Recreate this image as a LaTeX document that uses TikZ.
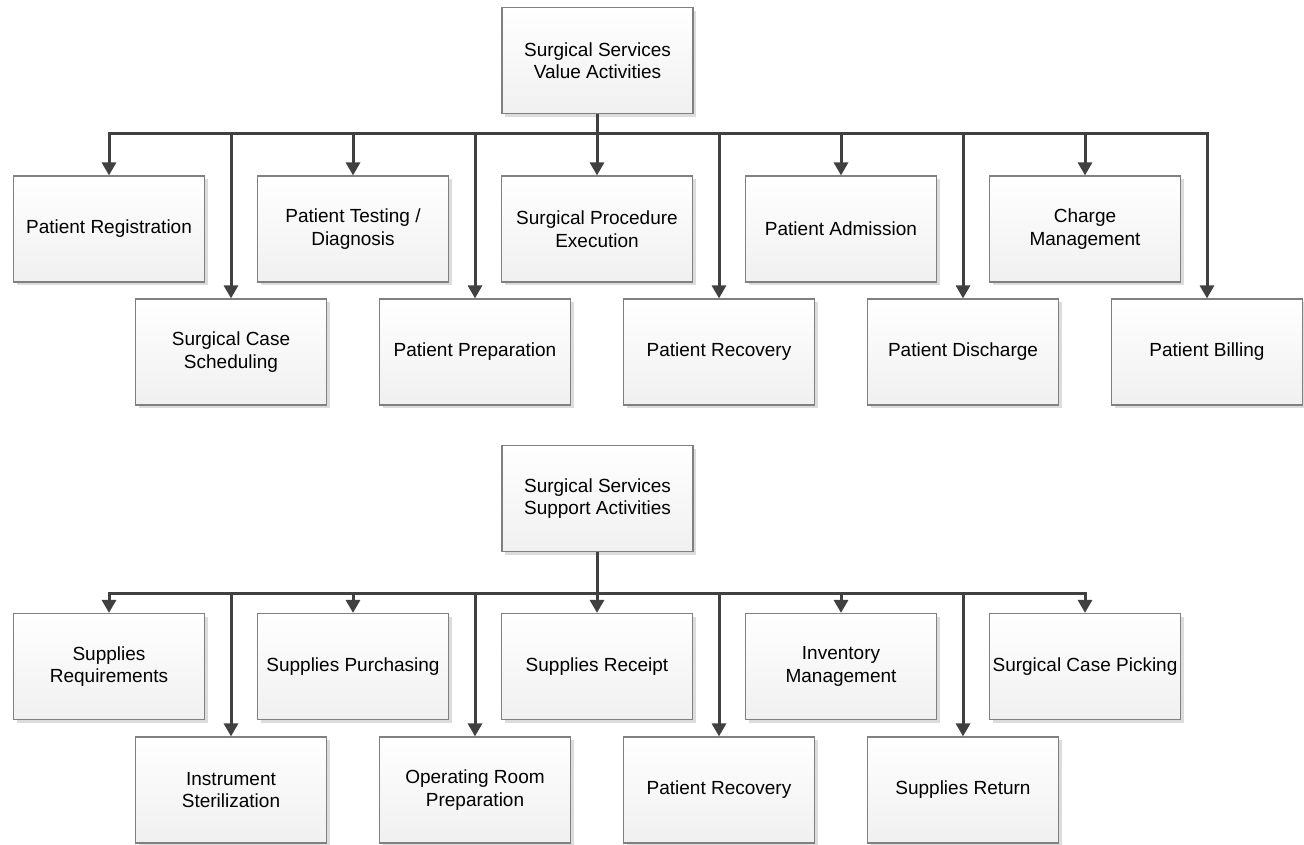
\documentclass[tikz,border=0pt]{standalone}
\usepackage{fontspec}
\setmainfont{Liberation Sans}
\usetikzlibrary{arrows.meta,shadows}
\definecolor{linegray}{HTML}{404040}
\definecolor{edgegray}{HTML}{808080}
\definecolor{shadowgray}{HTML}{DCDCDC}
\definecolor{boxbottom}{HTML}{F0F0F0}
\tikzset{
  act/.style={draw=edgegray, line width=1.2pt, top color=white, bottom color=boxbottom,
    minimum width=191pt, minimum height=106pt, inner sep=2pt, align=center,
    font=\fontsize{19}{22.5}\selectfont, text=black,
    drop shadow={shadow xshift=3pt, shadow yshift=-3pt, fill=shadowgray, opacity=1}},
  link/.style={draw=linegray, line width=3pt,
    -{Triangle[width=14pt,length=13pt]}}
}
\begin{document}
\begin{tikzpicture}[x=1pt,y=-1pt]
\useasboundingbox (0,0) rectangle (1304,844);

% ---- value activities ----
\node[act] (val) at (597.5,60.5) {Surgical Services\\Value Activities};

\node[act] (v1) at (109,229) {Patient Registration};
\node[act] (v3) at (353,229) {Patient Testing /\\Diagnosis};
\node[act] (v5) at (597,229) {Surgical Procedure\\Execution};
\node[act] (v7) at (841,229) {Patient Admission};
\node[act] (v9) at (1085,229) {Charge\\Management};

\node[act] (v2) at (231,352) {Surgical Case\\Scheduling};
\node[act] (v4) at (475,352) {Patient Preparation};
\node[act] (v6) at (719,352) {Patient Recovery};
\node[act] (v8) at (963,352) {Patient Discharge};
\node[act] (v10) at (1207,352) {Patient Billing};

\foreach \c in {v1,v2,v3,v4,v5,v6,v7,v8,v9,v10}
  \draw[link] (val.south) -- ++(0,19) -| (\c.north);

% ---- support activities ----
\node[act] (sup) at (597.5,498.5) {Surgical Services\\Support Activities};

\node[act] (s1) at (109,666.5) {Supplies\\Requirements};
\node[act] (s3) at (353,666.5) {Supplies Purchasing};
\node[act] (s5) at (597,666.5) {Supplies Receipt};
\node[act] (s7) at (841,666.5) {Inventory\\Management};
\node[act] (s9) at (1085,666.5) {Surgical Case Picking};

\node[act] (s2) at (231,790) {Instrument\\Sterilization};
\node[act] (s4) at (475,790) {Operating Room\\Preparation};
\node[act] (s6) at (719,790) {Patient Recovery};
\node[act] (s8) at (963,790) {Supplies Return};

\foreach \c in {s1,s2,s3,s4,s5,s6,s7,s8,s9}
  \draw[link] (sup.south) -- ++(0,41) -| (\c.north);
\end{tikzpicture}
\end{document}
